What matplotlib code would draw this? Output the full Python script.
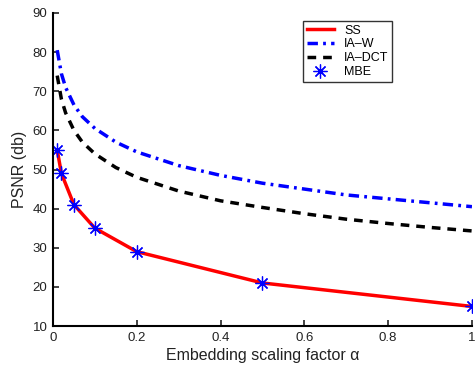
import matplotlib
matplotlib.use('Agg')
import matplotlib.pyplot as plt

plt.rcParams['font.family'] = ['Liberation Sans', 'DejaVu Sans']

# measured points (embedding factor alpha)
alpha_mbe = [0.01, 0.02, 0.05, 0.1, 0.2, 0.5, 1.0]
psnr_ss = [55, 49, 41, 35, 29, 21, 15]

alpha = [0.01, 0.02, 0.03, 0.05, 0.07, 0.1, 0.15, 0.2, 0.3, 0.4, 0.5, 0.6, 0.7, 0.8, 0.9, 1.0]
psnr_iaw = [80.5, 74.5, 71, 66.5, 63.5, 60.5, 57, 54.5, 51, 48.5, 46.5, 45, 43.5, 42.5, 41.5, 40.5]
psnr_iadct = [74, 68, 64.5, 60, 57, 54, 50.5, 48, 44.5, 42, 40.3, 38.7, 37.3, 36.2, 35.2, 34.3]

fig = plt.figure(figsize=(4.75, 3.65), dpi=100)
ax = fig.add_axes([0.1116, 0.1068, 0.882, 0.8576])

ax.plot(alpha_mbe, psnr_ss, color='red', lw=2.5, label='SS')
ax.plot(alpha, psnr_iaw, color='blue', lw=2.5, linestyle=(0, (3, 1.5, 0.8, 1.5)), label='IA\u2013W')
ax.plot(alpha, psnr_iadct, color='black', lw=2.5, linestyle=(0, (2.5, 2)), label='IA\u2013DCT')
ax.plot(alpha_mbe, psnr_ss, color='blue', lw=0, marker=(8, 2, 0), markersize=10,
        markeredgewidth=0.9, label='MBE')

ax.set_xlim(0, 1)
ax.set_ylim(10, 90)
ax.set_xticks([0, 0.2, 0.4, 0.6, 0.8, 1])
ax.set_xticklabels(['0', '0.2', '0.4', '0.6', '0.8', '1'])
ax.set_yticks(range(10, 91, 10))

ax.spines['top'].set_visible(False)
ax.spines['right'].set_visible(False)
ax.spines['left'].set_linewidth(1.5)
ax.spines['bottom'].set_linewidth(1.5)
ax.tick_params(direction='in', length=4, width=1.2, labelsize=9.5, pad=4, colors='#222222')

ax.set_xlabel('Embedding scaling factor \u03b1', fontsize=11.5, labelpad=3, color='#222222')
ax.set_ylabel('PSNR (db)', fontsize=11.5, labelpad=4, color='#222222')

leg = ax.legend(loc='upper right', bbox_to_anchor=(0.81, 0.975), fontsize=9,
                frameon=True, fancybox=False, edgecolor='black', borderpad=0.3,
                labelspacing=0.15, handlelength=2.2, handletextpad=0.8, borderaxespad=0)
leg.get_frame().set_linewidth(1.0)

fig.savefig('out.png', dpi=100)
